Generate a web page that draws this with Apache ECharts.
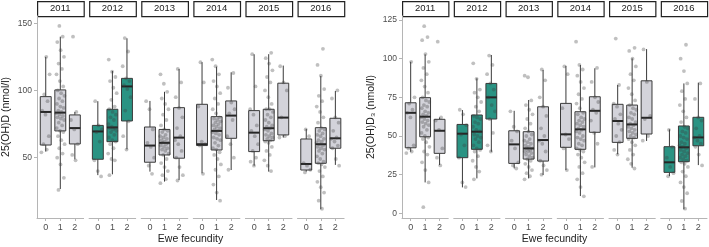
<!DOCTYPE html>
<html>
<head>
<meta charset="utf-8">
<script src="https://cdn.jsdelivr.net/npm/echarts@6/dist/echarts.min.js"></script>
<style>
    html, body {margin: 0; padding: 0; background: #fff;}
    #chart {width: 709px; height: 247px;}
</style>
</head>
<body>
<div id="chart"></div>
<script>
var years = ['2011', '2012', '2013', '2014', '2015', '2016'];
var fecundity = ['0', '1', '2'];
var ticksD = [50, 100, 150];
var ticksD3 = [0, 25, 50, 75, 100, 125];
var titleD = '25(OH)D (nmol/l)';
var titleD3 = '25(OH)D\u2083 (nmol/l)';
var titleX = 'Ewe fecundity';

// box stats [min, Q1, median, Q3, max], per year: fecundity 0, 1, 2
var boxD = [
    [[54.5, 59.4, 84, 95.4, 125], [26.7, 69.9, 83.5, 100.4, 140], [48.8, 60.2, 72, 81.8, 84]],
    [[37, 48.8, 69.5, 74, 92], [37.6, 61.9, 72.5, 86, 114.5], [56.2, 77.3, 103, 109, 138.8]],
    [[39.6, 46.6, 59, 72.8, 92.2], [32.2, 52, 61, 71, 99], [33.4, 49.6, 64.9, 87.2, 116]],
    [[38.4, 59, 60, 89.7, 121], [18.5, 55.7, 69.9, 80.5, 117.7], [40.8, 64.4, 81.3, 92.2, 113.5]],
    [[44, 54.5, 68.6, 85, 126.9], [39.6, 62.6, 71.9, 86, 127], [65, 66.9, 79.8, 105.4, 118.5]],
    [[39.6, 40.8, 45.3, 63.9, 71.4], [11.6, 45.8, 60, 72.3, 110.8], [44.6, 57, 64.4, 79.3, 99.6]]
];
var boxD3 = [
    [[39.8, 42.4, 65, 71.5, 98], [20, 49.5, 62.5, 74.8, 102.8], [31.2, 38.8, 53.4, 60.8, 62]],
    [[16.8, 36, 51.5, 57.5, 66.8], [22.6, 41.4, 52.8, 63.6, 87.3], [39.8, 61, 75, 84, 102.4]],
    [[29.1, 32.3, 44.6, 53.4, 66.3], [22.6, 35.1, 42, 52.8, 73.3], [24.8, 33.8, 47.4, 68.9, 92.7]],
    [[28, 42.7, 51.1, 71.1, 95.4], [11.2, 41.4, 54.3, 65.7, 95.9], [29.7, 52.4, 66.3, 75.4, 93.8]],
    [[38.2, 45.9, 59.7, 70.5, 83], [29.5, 48.5, 57.5, 70, 100.2], [46.8, 51.3, 61.8, 85.7, 106.2]],
    [[24.1, 26.5, 33, 43.1, 54.3], [2.6, 33.4, 42.7, 56.5, 84], [31.2, 43.7, 49.1, 62.1, 84.5]]
];

// individual ewes, per year: fecundity 0, 1, 2
var ptsD = [
    [[54, 56, 60, 66, 82, 85, 92, 97, 112, 125],
     [26, 35, 45, 50, 53, 57, 60, 63, 66, 69, 70, 72, 74, 76, 78, 79, 80, 81, 82, 83,
      84, 85, 87, 88, 90, 92, 94, 96, 98, 100, 103, 107, 112, 116, 120, 125, 130, 136, 140, 148],
     [48, 52, 60, 71, 78, 84, 140]],
    [[36, 40, 48, 62, 69, 71, 74, 92],
     [37, 48, 49, 53, 57, 60, 62, 63, 65, 67, 69, 70, 71, 72, 72, 73, 75, 78, 80, 82,
      84, 86, 88, 93, 98, 102, 107, 110, 114, 123],
     [56, 66, 77, 85, 95, 101, 104, 107, 109, 118, 129, 139]],
    [[38, 44, 50, 58, 61, 71, 86, 92],
     [31, 34, 37, 40, 43, 46, 49, 52, 53, 55, 56, 57, 58, 59, 60, 61, 61, 62, 63, 64,
      65, 66, 67, 69, 70, 71, 74, 78, 82, 86, 90, 94, 99, 105, 112],
     [33, 37, 43, 50, 55, 60, 63, 66, 72, 80, 87, 95, 106, 116]],
    [[38, 59, 60, 62, 88, 106, 121],
     [18, 24, 30, 36, 41, 45, 49, 52, 54, 56, 57, 59, 61, 63, 64, 65, 67, 68, 69, 70,
      71, 72, 73, 74, 75, 76, 77, 78, 79, 80, 83, 86, 90, 94, 98, 103, 107, 112, 118, 123],
     [41, 50, 60, 66, 78, 83, 86, 91, 102, 113]],
    [[44, 47, 50, 55, 60, 66, 70, 74, 82, 86, 103, 127],
     [40, 44, 48, 52, 55, 58, 61, 62, 63, 64, 65, 66, 67, 68, 70, 71, 72, 73, 74, 76,
      78, 80, 82, 84, 86, 86, 90, 95, 100, 106, 110, 115, 120, 124, 128],
     [65, 66, 80, 100, 106, 118]],
    [[39, 41, 44, 46, 66, 71],
     [12, 18, 24, 28, 32, 36, 40, 43, 45, 46, 47, 49, 51, 53, 55, 56, 57, 58, 59, 60,
      61, 62, 63, 64, 66, 67, 68, 70, 71, 72, 76, 80, 84, 88, 92, 96, 101, 111, 119, 131],
     [44, 49, 57, 59, 62, 64, 65, 70, 76, 80, 94, 100]]
];
var ptsD3 = [
    [[39, 40, 42, 44, 62, 65, 67, 71, 75, 98],
     [4, 20, 28, 33, 38, 40, 43, 46, 48, 49, 50, 52, 54, 56, 57, 58, 59, 60, 61, 62,
      63, 64, 65, 66, 68, 69, 70, 72, 73, 75, 78, 82, 86, 90, 94, 98, 103, 112, 114, 121],
     [31, 36, 42, 54, 60, 62, 111]],
    [[17, 20, 36, 44, 51, 57, 64, 67],
     [22, 27, 30, 34, 37, 40, 41, 42, 44, 46, 48, 49, 50, 51, 53, 54, 56, 58, 59, 61,
      62, 63, 66, 69, 72, 75, 78, 80, 87, 97],
     [40, 44, 52, 61, 66, 70, 75, 80, 84, 90, 96, 102]],
    [[29, 31, 33, 42, 47, 53, 56, 66],
     [22, 24, 26, 28, 30, 32, 34, 35, 36, 37, 38, 39, 40, 40, 41, 42, 42, 43, 44, 45,
      46, 47, 48, 50, 51, 53, 55, 58, 61, 64, 67, 70, 73, 88, 89],
     [25, 28, 31, 34, 40, 45, 47, 50, 55, 63, 69, 75, 86, 93]],
    [[28, 42, 48, 51, 68, 90, 95],
     [11, 17, 22, 26, 30, 33, 36, 38, 40, 41, 42, 44, 45, 47, 48, 49, 50, 52, 53, 54,
      55, 56, 57, 58, 59, 60, 61, 62, 64, 65, 68, 71, 74, 77, 81, 85, 89, 93, 96, 111],
     [30, 45, 52, 60, 65, 67, 72, 75, 85, 94]],
    [[38, 41, 46, 50, 54, 58, 61, 64, 69, 71, 83, 113],
     [29, 32, 35, 38, 41, 44, 46, 48, 49, 50, 51, 52, 53, 54, 55, 56, 57, 58, 59, 61,
      62, 64, 65, 67, 68, 70, 73, 77, 81, 86, 90, 95, 100, 105, 107],
     [47, 50, 61, 63, 85, 106]],
    [[24, 26, 30, 36, 43, 54],
     [3, 8, 13, 17, 20, 24, 27, 30, 32, 33, 34, 35, 36, 37, 38, 39, 40, 41, 42, 43,
      44, 45, 46, 48, 49, 50, 52, 53, 55, 56, 59, 62, 66, 70, 74, 79, 84, 92, 100, 109],
     [31, 38, 43, 45, 47, 49, 50, 55, 60, 62, 74, 84]]
];

// years where fecundity groups differ (teal boxes)
var signifD = ['2012'];
var signifD3 = ['2012', '2016'];

var FONT = '"Liberation Sans", Arial, sans-serif';
var TEAL = '#2a9383', GREY = '#d3d3da', EDGE = '#3a3a3a';

// panel layout
var panels = [
    {left: 37, width: 46.6, step: 52.1, min: 5.1, max: 155.4, ticks: ticksD, title: titleD,
        box: boxD, pts: ptsD, signif: signifD, xTitle: 190.5},
    {left: 402, width: 46.25, step: 51.75, min: -3, max: 127.6, ticks: ticksD3, title: titleD3,
        box: boxD3, pts: ptsD3, signif: signifD3, xTitle: 554.5}
];
var TOP = 16, HEIGHT = 202;

function renderBox(params, api) {
    var x = api.value(0);
    var lo = api.coord([x, api.value(1)]);
    var q1 = api.coord([x, api.value(2)]);
    var md = api.coord([x, api.value(3)]);
    var q3 = api.coord([x, api.value(4)]);
    var hi = api.coord([x, api.value(5)]);
    var hw = api.size([0.375, 0])[0];
    var fill = api.value(6) ? TEAL : GREY;
    return {
        type: 'group',
        children: [
            {type: 'line', shape: {x1: lo[0], y1: lo[1], x2: q1[0], y2: q1[1]}, style: {stroke: EDGE, lineWidth: 1}},
            {type: 'line', shape: {x1: q3[0], y1: q3[1], x2: hi[0], y2: hi[1]}, style: {stroke: EDGE, lineWidth: 1}},
            {type: 'rect', shape: {x: q3[0] - hw, y: q3[1], width: hw * 2, height: q1[1] - q3[1]},
                style: {fill: fill, stroke: EDGE, lineWidth: 1}},
            {type: 'line', shape: {x1: md[0] - hw, y1: md[1], x2: md[0] + hw, y2: md[1]},
                style: {stroke: '#262626', lineWidth: 2}}
        ]
    };
}

var grid = [], xAxis = [], yAxis = [], series = [], graphic = [];

panels.forEach(function (p, pi) {
    years.forEach(function (yr, yi) {
        var k = pi * 6 + yi;
        var left = p.left + yi * p.step;
        var first = yi == 0;
        grid.push({left: left, top: TOP, width: p.width, height: HEIGHT});
        xAxis.push({
            gridIndex: k, type: 'value', min: -0.6, max: 2.6,
            splitLine: {show: false},
            axisLine: {show: true, onZero: false, lineStyle: {color: '#b5b5b5', width: 1}},
            axisTick: {show: true, length: 3, customValues: [0, 1, 2], lineStyle: {color: '#b5b5b5'}},
            axisLabel: {
                customValues: [0, 1, 2], margin: 5, fontSize: 9, fontFamily: FONT, color: '#4d4d4d',
                formatter: function (v) { return fecundity[v]; }
            }
        });
        yAxis.push({
            gridIndex: k, type: 'value', min: p.min, max: p.max,
            splitLine: {show: false},
            axisLine: {show: first, onZero: false, lineStyle: {color: '#b5b5b5', width: 1}},
            axisTick: {show: first, length: 3, customValues: p.ticks, lineStyle: {color: '#b5b5b5'}},
            axisLabel: {show: first, customValues: p.ticks, margin: 5, fontSize: 8.5, fontFamily: FONT, color: '#4d4d4d'},
            name: first ? p.title : '', nameLocation: 'middle', nameGap: 25, nameRotate: 90,
            nameTextStyle: {fontSize: 10.5, fontFamily: FONT, color: '#222'}
        });

        // boxes
        var hl = p.signif.indexOf(yr) >= 0 ? 1 : 0;
        series.push({
            type: 'custom', xAxisIndex: k, yAxisIndex: k, z: 2, silent: true,
            renderItem: renderBox,
            encode: {x: 0, y: [1, 2, 3, 4, 5]},
            data: p.box[yi].map(function (b, ci) {
                return [ci].concat(b).concat([hl]);
            })
        });

        // jittered points (deterministic spread)
        var pts = [];
        p.pts[yi].forEach(function (vals, ci) {
            var seed = (yi * 3 + ci) * 0.29;
            vals.forEach(function (v, i) {
                var f = (i * 0.618034 + seed) % 1;
                pts.push([ci + (f - 0.5) * 0.6, v]);
            });
        });
        series.push({
            type: 'scatter', xAxisIndex: k, yAxisIndex: k, z: 3, silent: true,
            symbolSize: 3.8,
            itemStyle: {color: 'rgba(60,60,60,0.4)'},
            data: pts
        });

        // strip label
        graphic.push({
            type: 'rect', left: left, top: 1,
            shape: {width: p.width, height: 15},
            style: {fill: '#fff', stroke: '#222', lineWidth: 1.2}
        });
        graphic.push({
            type: 'text', x: left + p.width / 2, y: 8.5,
            style: {text: yr, fontSize: 9.5, fontFamily: FONT, fill: '#1a1a1a', align: 'center', verticalAlign: 'middle'}
        });
    });

    graphic.push({
        type: 'text', x: p.xTitle, y: 239,
        style: {text: titleX, fontSize: 10.5, fontFamily: FONT, fill: '#222', align: 'center', verticalAlign: 'middle'}
    });
});

var chart = echarts.init(document.getElementById('chart'), null, {renderer: 'canvas'});
chart.setOption({
    animation: false,
    grid: grid,
    xAxis: xAxis,
    yAxis: yAxis,
    series: series,
    graphic: graphic
});
</script>
</body>
</html>
